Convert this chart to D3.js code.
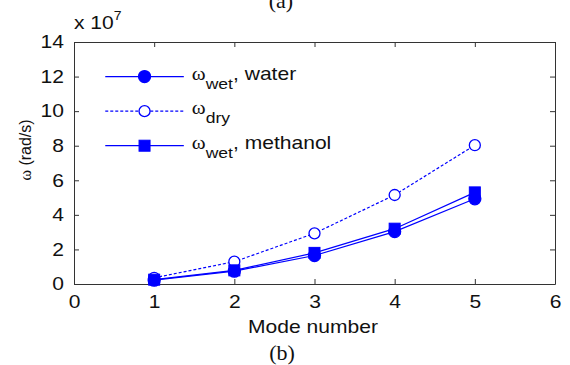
<!DOCTYPE html>
<html>
<head>
<meta charset="utf-8">
<script src="https://cdn.jsdelivr.net/npm/d3@7"></script>
<style>
  body { margin: 0; background: #fff; }
</style>
</head>
<body>
<svg id="chart" width="570" height="365"></svg>
<script>
// mode numbers and frequencies (units of 1e7 rad/s)
const modes = [1, 2, 3, 4, 5];
const wetWater = [0.22, 0.74, 1.65, 3.03, 4.93];
const dry = [0.36, 1.29, 2.93, 5.15, 8.03];
const wetMethanol = [0.25, 0.79, 1.8, 3.2, 5.3];
const xTicks = [0, 1, 2, 3, 4, 5, 6];
const yTicks = [0, 2, 4, 6, 8, 10, 12, 14];

const series = [
  { name: 'wet', suffix: ', water', values: wetWater, marker: 'circle', filled: true, dash: null },
  { name: 'dry', suffix: '', values: dry, marker: 'circle', filled: false, dash: '3,2' },
  { name: 'wet', suffix: ', methanol', values: wetMethanol, marker: 'square', filled: true, dash: null }
];

const blue = '#0000ff';
const sans = '"Liberation Sans", Arial, sans-serif';
const serif = '"Liberation Serif", "Times New Roman", serif';
const stretch = 1.17; // the source text is a bit wide
const margin = { top: 42, right: 15, bottom: 81, left: 74 };
const width = 570 - margin.left - margin.right;
const height = 365 - margin.top - margin.bottom;

const svg = d3.select('#chart').style('font-family', sans);
const g = svg.append('g').attr('transform', `translate(${margin.left},${margin.top})`);

const x = d3.scaleLinear().domain([0, 6]).range([0, width]);
const y = d3.scaleLinear().domain([0, 14]).range([height, 0]);

// box with inward ticks (matlab style)
const tickLen = 5;
const bottomAxis = g.append('g').attr('transform', `translate(0,${height})`)
  .call(d3.axisBottom(x).tickValues(xTicks).tickFormat(d3.format('d'))
    .tickSizeInner(-tickLen).tickSizeOuter(0).tickPadding(11));
g.append('g')
  .call(d3.axisTop(x).tickValues(xTicks).tickSizeInner(-tickLen).tickSizeOuter(0).tickFormat(''));
const leftAxis = g.append('g')
  .call(d3.axisLeft(y).tickValues(yTicks).tickSizeInner(-tickLen).tickSizeOuter(0).tickPadding(10));
g.append('g').attr('transform', `translate(${width},0)`)
  .call(d3.axisRight(y).tickValues(yTicks).tickSizeInner(-tickLen).tickSizeOuter(0).tickFormat(''));

g.selectAll('.domain').attr('stroke', '#333');
g.selectAll('.tick line').attr('stroke', '#333');
g.selectAll('.tick text').attr('fill', '#111')
  .style('font-size', '18px').style('font-family', sans);
bottomAxis.selectAll('.tick text').attr('transform', `scale(${stretch},1)`);
leftAxis.selectAll('.tick text')
  .attr('x', null).attr('text-anchor', 'end')
  .attr('transform', `translate(-10,0) scale(${stretch},1)`);

// exponent label
const expo = svg.append('text').attr('transform', `translate(74,29) scale(${stretch},1)`)
  .style('font-size', '18px').attr('fill', '#111');
expo.append('tspan').text('x 10');
expo.append('tspan').style('font-size', '12px').attr('dy', -9).text('7');

// axis labels
svg.append('text').attr('transform', `translate(313,333) scale(${stretch},1)`).attr('text-anchor', 'middle')
  .style('font-size', '18px').attr('fill', '#111').text('Mode number');

const yl = svg.append('text').attr('transform', 'translate(31,150) rotate(-90)')
  .attr('text-anchor', 'middle').style('font-size', '16px').attr('fill', '#111');
yl.append('tspan').style('font-family', serif).text('ω');
yl.append('tspan').text(' (rad/s)');

// panel captions
svg.append('text').attr('x', 282).attr('y', 360).attr('text-anchor', 'middle')
  .style('font-size', '22px').style('font-family', serif).attr('fill', '#111').text('(b)');
svg.append('text').attr('x', 281).attr('y', 8).attr('text-anchor', 'middle')
  .style('font-size', '22px').style('font-family', serif).attr('fill', '#111').text('(a)');

const line = d3.line().x((d, i) => x(modes[i])).y(d => y(d));

function drawMarker(sel, s, cx, cy) {
  if (s.marker === 'circle') {
    sel.append('circle').attr('cx', cx).attr('cy', cy).attr('r', s.filled ? 6 : 5.5)
      .attr('fill', s.filled ? blue : '#fff').attr('stroke', blue).attr('stroke-width', 1.3);
  } else {
    sel.append('rect').attr('x', cx - 5.5).attr('y', cy - 5.5).attr('width', 11).attr('height', 11)
      .attr('fill', blue).attr('stroke', blue).attr('stroke-width', 1);
  }
}

series.forEach(s => {
  g.append('path').datum(s.values).attr('d', line)
    .attr('fill', 'none').attr('stroke', blue).attr('stroke-width', 1.2)
    .attr('stroke-dasharray', s.dash);
  s.values.forEach((v, i) => drawMarker(g, s, x(modes[i]), y(v)));
});

// legend
const legendY = [12, 10, 8];
series.forEach((s, i) => {
  const ly = y(legendY[i]);
  g.append('line').attr('x1', x(0.39)).attr('x2', x(1.37)).attr('y1', ly).attr('y2', ly)
    .attr('stroke', blue).attr('stroke-width', 1.2).attr('stroke-dasharray', s.dash);
  drawMarker(g, s, x(0.88), ly);
  const t = g.append('text').attr('transform', `translate(${x(1.47)},${ly + 3}) scale(${stretch},1)`)
    .style('font-size', '18px').attr('fill', '#111');
  t.append('tspan').style('font-family', serif).style('font-size', '18px').text('ω');
  t.append('tspan').style('font-size', '15px').attr('dy', 9).text(s.name);
  t.append('tspan').attr('dy', -9).text(s.suffix);
});
</script>
</body>
</html>
